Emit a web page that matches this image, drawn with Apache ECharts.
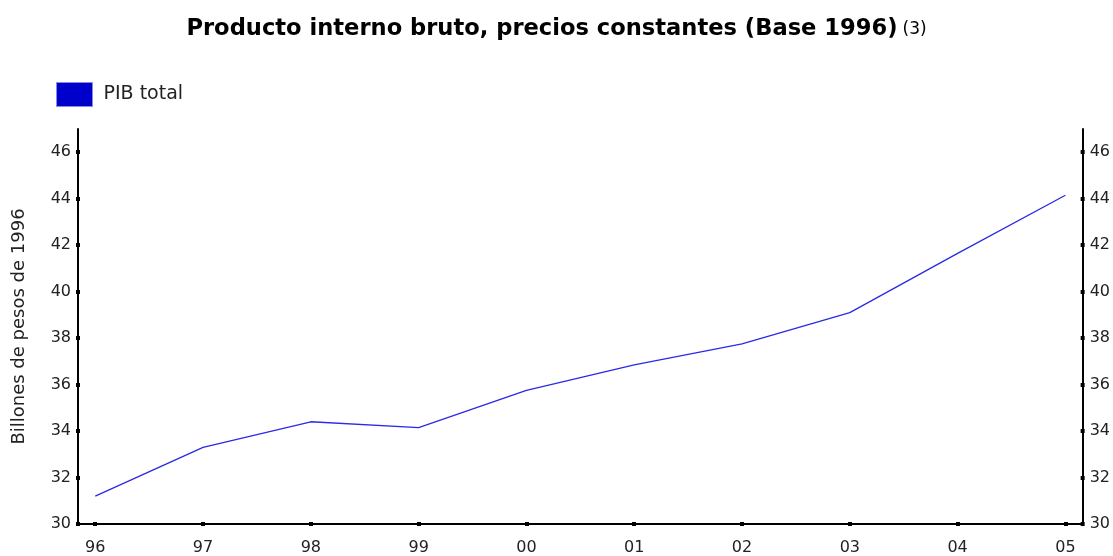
<!DOCTYPE html>
<html>
<head>
<meta charset="utf-8">
<script src="https://cdn.jsdelivr.net/npm/echarts@6/dist/echarts.min.js"></script>
<style>html,body{margin:0;padding:0;background:#fff}#c{width:1113px;height:556px}</style>
</head>
<body>
<div id="c"></div>
<script>
const years = ['96','97','98','99','00','01','02','03','04','05'];
const pibTotal = [31.2, 33.3, 34.4, 34.15, 35.75, 36.85, 37.75, 39.1, 41.65, 44.15];
const yTicks = [30, 32, 34, 36, 38, 40, 42, 44, 46];
const seriesName = 'PIB total';
const titleMain = 'Producto interno bruto, precios constantes (Base 1996)';
const titleNote = '(3)';
const yName = 'Billones de pesos de 1996';

const xIdx = years.map((_, i) => i);
const pts = pibTotal.map((v, i) => [i, v]);
const FONT = 'DejaVu Sans';

function yAx(pos, inside, showLabel, showLine) {
  return {
    type: 'value', position: pos, min: 30, max: 47,
    splitLine: { show: false },
    axisLine: { show: showLine, onZero: false, lineStyle: { color: '#000', width: 2 } },
    axisTick: { show: true, inside: inside, length: 2, customValues: yTicks, lineStyle: { color: '#000', width: 4 } },
    axisLabel: { show: showLabel, customValues: yTicks, color: '#222', fontFamily: FONT, fontSize: 16, margin: 7 }
  };
}
function xAx(inside, showLabel, showLine) {
  return {
    type: 'value', position: 'bottom', min: -0.16, max: 9.16,
    splitLine: { show: false },
    axisLine: { show: showLine, onZero: false, lineStyle: { color: '#000', width: 2 } },
    axisTick: { show: true, inside: inside, length: 2, customValues: xIdx, lineStyle: { color: '#000', width: 4 } },
    axisLabel: { show: showLabel, customValues: xIdx, formatter: v => years[Math.round(v)], color: '#222', fontFamily: FONT, fontSize: 16, margin: 16 }
  };
}

const chart = echarts.init(document.getElementById('c'), null, { renderer: 'canvas' });
chart.setOption({
  animation: false,
  backgroundColor: '#fff',
  title: {
    text: '{b|' + titleMain + '} {n|' + titleNote + '}',
    left: 'center', top: 13,
    textStyle: { rich: {
      b: { fontFamily: FONT, fontWeight: 'bold', fontSize: 22.6, color: '#000' },
      n: { fontFamily: FONT, fontWeight: 'normal', fontSize: 17, color: '#000' }
    } }
  },
  legend: {
    left: 56, top: 82, padding: 0, itemWidth: 36, itemHeight: 24, itemGap: 10,
    icon: 'rect',
    data: [{ name: seriesName, itemStyle: { color: '#0000cc', borderColor: '#8888ee', borderWidth: 1 } }],
    textStyle: { fontFamily: FONT, fontSize: 19, color: '#222', padding: [5, 0, 0, 6] }
  },
  grid: { left: 78, right: 30, top: 129, bottom: 32, containLabel: false },
  xAxis: [xAx(false, true, true), xAx(true, false, false)],
  yAxis: [
    Object.assign(yAx('left', false, true, true), {
      name: yName, nameLocation: 'middle', nameGap: 50, nameRotate: 90,
      nameTextStyle: { fontFamily: FONT, fontSize: 18, color: '#222' }
    }),
    yAx('right', false, true, true),
    yAx('left', true, false, false),
    yAx('right', true, false, false)
  ],
  series: [{
    name: seriesName, type: 'line', xAxisIndex: 0, yAxisIndex: 0,
    data: pts, showSymbol: false, symbol: 'none',
    lineStyle: { color: '#2a2ae6', width: 1.3 },
    itemStyle: { color: '#0000cc' }
  }]
});
</script>
</body>
</html>
